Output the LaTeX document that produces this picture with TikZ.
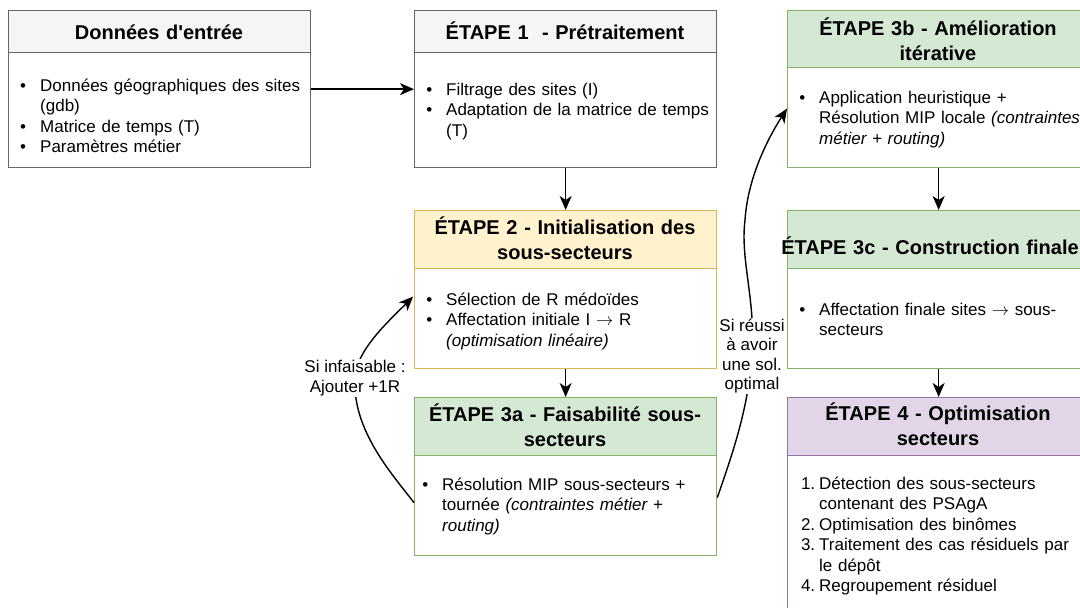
\documentclass[tikz,border=0pt]{standalone}
\usepackage{fontspec}
\setmainfont{Liberation Sans}
\usetikzlibrary{arrows.meta,calc}
\definecolor{gfill}{HTML}{F5F5F5}\definecolor{gline}{HTML}{666666}
\definecolor{yfill}{HTML}{FFF2CC}\definecolor{yline}{HTML}{D6B656}
\definecolor{vfill}{HTML}{D5E8D4}\definecolor{vline}{HTML}{82B366}
\definecolor{pfill}{HTML}{E1D5E7}\definecolor{pline}{HTML}{9673A6}
\newlength{\hangw}\setlength{\hangw}{18pt}
\newcommand{\bit}[1]{\hangindent=\hangw\hangafter=0\noindent\llap{\textbullet\hspace{14pt}}#1\par}
\newcommand{\nit}[2]{\hangindent=\hangw\hangafter=0\noindent\llap{#1\hspace{4pt}}#2\par}
\newcommand{\arrowr}{\ensuremath{\rightarrow}}
\tikzset{
  frame/.style={draw=#1, line width=1.3pt, fill=white, minimum width=302pt, anchor=north west, inner sep=0pt},
  hdr/.style={line width=1.3pt, minimum width=302pt, anchor=north west, inner sep=0pt},
  ttl/.style={anchor=base, text width=340pt, align=center, inner sep=0pt, font=\bfseries\fontsize{20}{25}\selectfont},
  bodytext/.style={anchor=base west, text width=320pt, align=left, inner sep=0pt, font=\fontsize{17}{20.5}\selectfont},
  lbl/.style={fill=white, inner sep=1pt, align=center, font=\fontsize{17}{19.5}\selectfont},
  arr/.style={line width=1.4pt, -{Stealth[length=14pt,width=12pt,inset=4pt]}},
}
\begin{document}
\begin{tikzpicture}[x=1pt,y=-1pt]
\useasboundingbox (0,0) rectangle (1080,608);
\clip (0,0) rectangle (1080,608);
% boxes
\node[frame=gline, minimum height=157pt] (d) at (8,10) {};
\node[hdr, draw=gline, fill=gfill, minimum height=42pt] (dh) at (8,10) {};
\node[frame=gline, minimum height=157pt] (e1) at (414,10) {};
\node[hdr, draw=gline, fill=gfill, minimum height=42pt] (e1h) at (414,10) {};
\node[frame=vline, minimum height=157pt] (e3b) at (787,10) {};
\node[hdr, draw=vline, fill=vfill, minimum height=57pt] (e3bh) at (787,10) {};
\node[frame=yline, minimum height=158pt] (e2) at (414,210) {};
\node[hdr, draw=yline, fill=yfill, minimum height=58pt] (e2h) at (414,210) {};
\node[frame=vline, minimum height=158pt] (e3a) at (414,397) {};
\node[hdr, draw=vline, fill=vfill, minimum height=58pt] (e3ah) at (414,397) {};
\node[frame=vline, minimum height=158pt] (e3c) at (787,210) {};
\node[hdr, draw=vline, fill=vfill, minimum height=58pt] (e3ch) at (787,210) {};
\node[frame=pline, minimum height=240pt] (e4) at (787,397) {};
\node[hdr, draw=pline, fill=pfill, minimum height=58pt] (e4h) at (787,397) {};
% titles
\node[ttl] (dt) at (159,39) {Données d\textquotesingle entrée};
\node[ttl] (e1t) at (565,39) {ÉTAPE 1~ - Prétraitement};
\node[ttl] (e3bt) at (938,35) {ÉTAPE 3b - Amélioration\\itérative};
\node[ttl] (e2t) at (565,234) {ÉTAPE 2 - Initialisation des\\sous-secteurs};
\node[ttl] (e3at) at (565,421) {ÉTAPE 3a - Faisabilité sous-\\secteurs};
\node[ttl] (e3ct) at (930,254) {ÉTAPE 3c - Construction finale};
\node[ttl] (e4t) at (938,420) {ÉTAPE 4 - Optimisation\\secteurs};
% bodies
\node[bodytext] (db) at (22,91) {\bit{Données géographiques des sites\newline (gdb)}\bit{Matrice de temps (T)}\bit{Paramètres métier}};
\node[bodytext] (e1b) at (428,95) {\bit{Filtrage des sites (I)}\bit{Adaptation de la matrice de temps\newline (T)}};
\node[bodytext] (e3bb) at (801,103) {\bit{Application heuristique +\newline Résolution MIP locale \textit{(contraintes\newline métier + routing)}}};
\node[bodytext] (e2b) at (428,305) {\bit{Sélection de R médoïdes}\bit{Affectation initiale I \arrowr{} R\newline \textit{(optimisation linéaire)}}};
\node[bodytext] (e3ab) at (424,490) {\bit{Résolution MIP sous-secteurs +\newline tournée \textit{(contraintes métier +\newline routing)}}};
\node[bodytext] (e3cb) at (801,315) {\bit{Affectation finale sites \arrowr{} sous-\newline secteurs}};
\node[bodytext] (e4b) at (801,489) {\nit{1.}{Détection des sous-secteurs\newline contenant des PSAgA}\nit{2.}{Optimisation des binômes}\nit{3.}{Traitement des cas résiduels par\newline le dépôt}\nit{4.}{Regroupement résiduel}};
% straight connectors
\draw[arr] (d.east) -- (e1.west);
\draw[arr] (e1.south) -- (e2.north);
\draw[arr] (e2.south) -- (e3a.north);
\draw[arr] (e3b.south) -- (e3c.north);
\draw[arr] (e3c.south) -- (e4.north);
% curved connectors
\coordinate (s1) at ($(e3a.west)+(0,26)$);
\coordinate (t1) at ($(e2.west)+(-1,7)$);
\draw[arr] (s1) .. controls (392,474) and (352,430) .. (355,378)
  node[lbl] (l1) {Si infaisable :\\Ajouter +1R}
  .. controls (356,350) and (390,320) .. (t1);
\coordinate (s2) at ($(e3a.east)+(0,21)$);
\coordinate (t2) at ($(e3b.west)+(0,19.5)$);
\draw[arr] (s2) .. controls (732,455) and (748,410) .. (752,356)
  node[lbl] (l2) {Si réussi\\à avoir\\une sol.\\optimal}
  .. controls (756,300) and (740,260) .. (745,220)
  .. controls (748,175) and (770,135) .. (t2);
\end{tikzpicture}
\end{document}
